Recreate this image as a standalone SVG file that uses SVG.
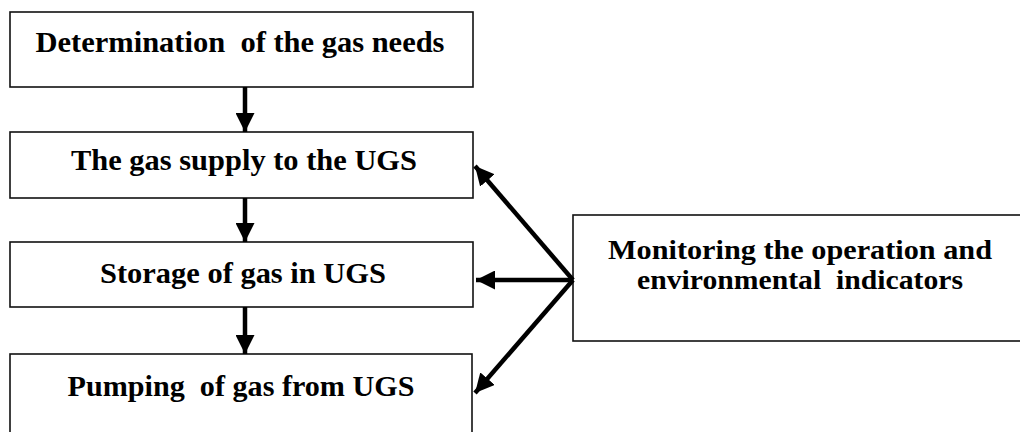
<svg xmlns="http://www.w3.org/2000/svg" width="1020" height="432" viewBox="0 0 1020 432">
<defs>
<style>
.box{fill:#fff;stroke:#111;stroke-width:1.6}
.t{font-family:"Liberation Serif","Times New Roman",serif;font-weight:bold;font-size:29px;fill:#000;text-anchor:middle;white-space:pre}
.s{font-size:27px}
.c{stroke:#000;stroke-width:4.5;fill:none}
</style>
<marker id="ah" markerUnits="userSpaceOnUse" viewBox="0 0 20 20" refX="20" refY="10" markerWidth="19" markerHeight="19" orient="auto">
<path d="M0,0 L20,10 L0,20 Z" fill="#000"/>
</marker>
</defs>
<rect width="1020" height="432" fill="#fff"/>
<g id="n1"><rect class="box" x="10" y="12" width="463" height="75"/><text class="t" x="240" y="52" textLength="409" lengthAdjust="spacingAndGlyphs" xml:space="preserve">Determination  of the gas needs</text></g>
<g id="n2"><rect class="box" x="10" y="132" width="463" height="66"/><text class="t" x="244" y="170" textLength="346" lengthAdjust="spacingAndGlyphs">The gas supply to the UGS</text></g>
<g id="n3"><rect class="box" x="10" y="242" width="463" height="65"/><text class="t" x="243" y="283" textLength="286" lengthAdjust="spacingAndGlyphs">Storage of gas in UGS</text></g>
<g id="n4"><rect class="box" x="10" y="354" width="462" height="90"/><text class="t" x="241" y="396" textLength="347" lengthAdjust="spacingAndGlyphs" xml:space="preserve">Pumping  of gas from UGS</text></g>
<g id="n5"><rect class="box" x="573" y="215" width="460" height="126"/><text class="t s" x="800" y="259" textLength="384" lengthAdjust="spacingAndGlyphs">Monitoring the operation and</text><text class="t s" x="800" y="289" textLength="326" lengthAdjust="spacingAndGlyphs" xml:space="preserve">environmental  indicators</text></g>
<g id="connectors">
<line class="c" x1="245" y1="87" x2="245" y2="132" marker-end="url(#ah)"/>
<line class="c" x1="245" y1="198" x2="245" y2="242" marker-end="url(#ah)"/>
<line class="c" x1="245" y1="307" x2="245" y2="354" marker-end="url(#ah)"/>
<line class="c" x1="573" y1="280" x2="475" y2="166" marker-end="url(#ah)"/>
<line class="c" x1="573" y1="280" x2="476" y2="280" marker-end="url(#ah)"/>
<line class="c" x1="573" y1="280" x2="475" y2="393" marker-end="url(#ah)"/>
</g>
</svg>
